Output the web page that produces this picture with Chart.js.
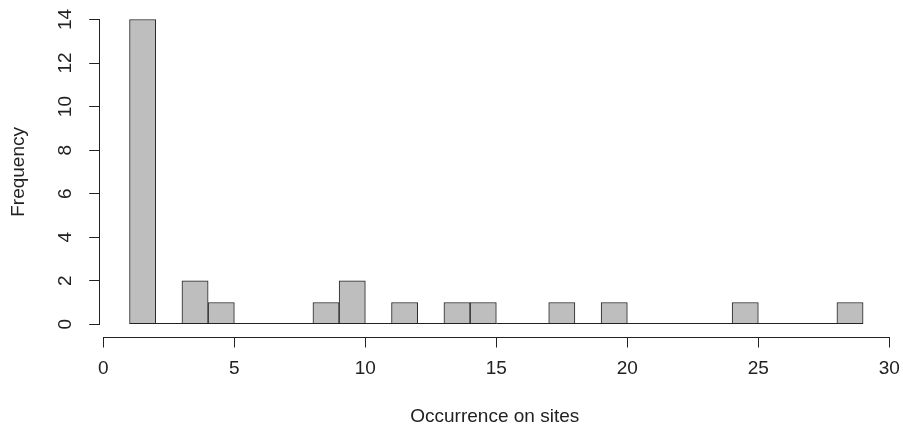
<!DOCTYPE html>
<html>
<head>
<meta charset="utf-8">
<script src="https://cdn.jsdelivr.net/npm/chart.js@4/dist/chart.umd.min.js"></script>
<style>
body{margin:0;background:#fff}
canvas{display:block}
</style>
</head>
<body>
<canvas id="hist" width="903" height="430"></canvas>
<script>
// histogram bins (left edges) and counts
const breaks=[1,2,3,4,5,6,7,8,9,10,11,12,13,14,15,16,17,18,19,20,21,22,23,24,25,26,27,28,29]
const counts=[14,0,2,1,0,0,0,1,2,0,1,0,1,1,0,0,1,0,1,0,0,0,0,1,0,0,0,1]
const xTicks=[0,5,10,15,20,25,30]
const yTicks=[0,2,4,6,8,10,12,14]

const bins=counts.map((c,i)=>({x:(breaks[i]+breaks[i+1])/2,y:c}))

Chart.defaults.font.family='"Liberation Sans", Arial, sans-serif'
Chart.defaults.font.size=19
Chart.defaults.color='#222'

// R style axes: lines only span the tick range, plus the bar baseline
const rAxes={
id:'rAxes',
afterDatasetsDraw(chart){
const {ctx,chartArea,scales:{x,y}}=chart
ctx.save()
ctx.strokeStyle='#222'
ctx.lineWidth=1
ctx.beginPath()
const y0=Math.round(y.getPixelForValue(0))-0.5
ctx.moveTo(x.getPixelForValue(breaks[0]),y0)
ctx.lineTo(x.getPixelForValue(breaks[breaks.length-1]),y0)
const lx=Math.round(chartArea.left)-0.5
ctx.moveTo(lx,y.getPixelForValue(yTicks[0]))
ctx.lineTo(lx,y.getPixelForValue(yTicks[yTicks.length-1]))
const by=Math.round(chartArea.bottom)+0.5
ctx.moveTo(x.getPixelForValue(xTicks[0]),by)
ctx.lineTo(x.getPixelForValue(xTicks[xTicks.length-1]),by)
ctx.stroke()
ctx.restore()
}
}

new Chart(document.getElementById('hist'),{
type:'bar',
data:{
datasets:[{
data:bins,
backgroundColor:'#bebebe',
borderColor:'#222',
borderWidth:1,
borderSkipped:'start',
barPercentage:1,
categoryPercentage:1
}]
},
options:{
responsive:false,
animation:false,
layout:{padding:{left:0,top:7.3,right:13.7,bottom:0}},
plugins:{legend:{display:false},tooltip:{enabled:false}},
scales:{
x:{
type:'linear',
offset:false,
min:-0.12,
max:30,
afterBuildTicks(s){s.ticks=xTicks.map(v=>({value:v}))},
afterFit(s){s.height=430-336.5;s.paddingLeft=0;s.paddingRight=0},
border:{display:false},
grid:{offset:false,drawOnChartArea:false,drawTicks:true,tickLength:11,color:'#222'},
ticks:{padding:10,minRotation:0,maxRotation:0,autoSkip:false},
title:{display:true,text:'Occurrence on sites',padding:{top:0,bottom:2}}
},
y:{
min:-0.56,
max:14.56,
afterBuildTicks(s){s.ticks=yTicks.map(v=>({value:v}))},
afterFit(s){s.width=100.2;s.paddingTop=0;s.paddingBottom=0},
border:{display:false},
grid:{drawOnChartArea:false,drawTicks:true,tickLength:11,color:'#222'},
ticks:{padding:12.6,minRotation:90,maxRotation:90,crossAlign:'center',autoSkip:false},
title:{display:true,text:'Frequency',padding:{top:7,bottom:0}}
}
}
},
plugins:[rAxes]
})
</script>
</body>
</html>
